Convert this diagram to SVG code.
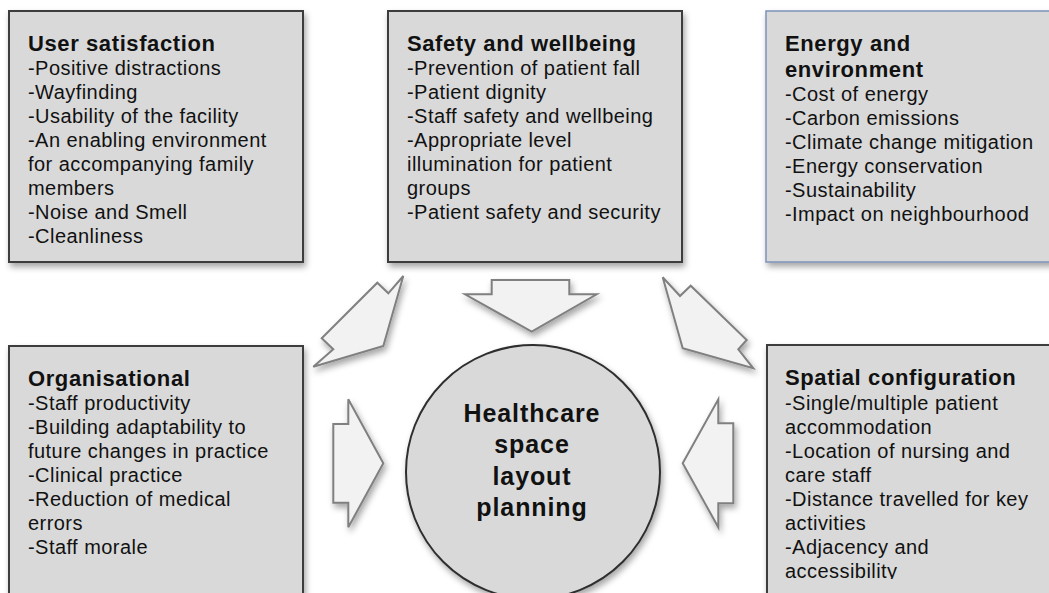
<svg xmlns="http://www.w3.org/2000/svg" width="1049" height="593" viewBox="0 0 1049 593">
<defs>
<filter id="sh" x="-20%" y="-20%" width="140%" height="140%">
<feDropShadow dx="2" dy="4" stdDeviation="3" flood-color="#000" flood-opacity="0.35"/>
</filter>
<clipPath id="clip5"><rect x="760" y="340" width="300" height="239"/></clipPath>
</defs>
<style>
.box{fill:#d9d9d9;stroke:#3c3c3c;stroke-width:2;filter:url(#sh)}
.boxb{fill:#d9d9d9;stroke:#7d92b8;stroke-width:1.5;filter:url(#sh)}
.arr{fill:#f2f2f2;stroke:#808080;stroke-width:2;stroke-linejoin:miter;filter:url(#sh)}
.t{font-family:"Liberation Sans",Arial,sans-serif;font-size:20px;letter-spacing:0.45px;fill:#111}
.h{font-family:"Liberation Sans",Arial,sans-serif;font-size:22px;font-weight:bold;letter-spacing:0.6px;fill:#111}
.c{font-family:"Liberation Sans",Arial,sans-serif;font-size:25px;font-weight:bold;letter-spacing:0.9px;fill:#111;text-anchor:middle}
</style>
<rect width="1049" height="593" fill="#fff"/>

<g id="connectors">
<polygon class="arr" points="313.3,366.7 333.3,349.3 321.7,338.3 377.3,282.7 388.3,293.3 403.3,276 383.3,346"/>
<polygon class="arr" points="491.7,280 569.3,280 569.3,294.3 596.7,294.3 531.7,331.7 465,294.3 491.7,294.3"/>
<polygon class="arr" points="662.7,277.3 680,296 690.7,285.7 746.7,340 738.3,349.3 753.3,368.3 682.7,348.3"/>
<polygon class="arr" points="333.3,424 348.3,424 348.3,399.3 383.3,463.3 348.3,527.3 348.3,502.7 333.3,502.7"/>
<polygon class="arr" points="718.3,399.3 718.3,423.3 733.3,423.3 733.3,503.3 718.3,503.3 718.3,527.3 682.7,463.3"/>
</g>

<g id="user-satisfaction">
<rect class="box" x="9" y="11" width="294" height="251"/>
<text class="h" x="28" y="51">User satisfaction</text>
<text class="t" x="28" y="75">-Positive distractions</text>
<text class="t" x="28" y="99">-Wayfinding</text>
<text class="t" x="28" y="123">-Usability of the facility</text>
<text class="t" x="28" y="147">-An enabling environment</text>
<text class="t" x="28" y="171">for accompanying family</text>
<text class="t" x="28" y="195">members</text>
<text class="t" x="28" y="219">-Noise and Smell</text>
<text class="t" x="28" y="243">-Cleanliness</text>
</g>

<g id="safety-wellbeing">
<rect class="box" x="388" y="11" width="294" height="251"/>
<text class="h" x="407" y="51">Safety and wellbeing</text>
<text class="t" x="407" y="75">-Prevention of patient fall</text>
<text class="t" x="407" y="99">-Patient dignity</text>
<text class="t" x="407" y="123">-Staff safety and wellbeing</text>
<text class="t" x="407" y="147">-Appropriate level</text>
<text class="t" x="407" y="171">illumination for patient</text>
<text class="t" x="407" y="195">groups</text>
<text class="t" x="407" y="219">-Patient safety and security</text>
</g>

<g id="energy-environment">
<rect class="boxb" x="766" y="11" width="300" height="251"/>
<text class="h" x="785" y="51">Energy and</text>
<text class="h" x="785" y="77">environment</text>
<text class="t" x="785" y="101">-Cost of energy</text>
<text class="t" x="785" y="125">-Carbon emissions</text>
<text class="t" x="785" y="149">-Climate change mitigation</text>
<text class="t" x="785" y="173">-Energy conservation</text>
<text class="t" x="785" y="197">-Sustainability</text>
<text class="t" x="785" y="221">-Impact on neighbourhood</text>
</g>

<g id="organisational">
<rect class="box" x="9" y="346" width="294" height="260"/>
<text class="h" x="28" y="386">Organisational</text>
<text class="t" x="28" y="410">-Staff productivity</text>
<text class="t" x="28" y="434">-Building adaptability to</text>
<text class="t" x="28" y="458">future changes in practice</text>
<text class="t" x="28" y="482">-Clinical practice</text>
<text class="t" x="28" y="506">-Reduction of medical</text>
<text class="t" x="28" y="530">errors</text>
<text class="t" x="28" y="554">-Staff morale</text>
</g>

<g id="spatial-configuration">
<rect class="box" x="767" y="345" width="300" height="260"/>
<g clip-path="url(#clip5)">
<text class="h" x="785" y="385">Spatial configuration</text>
<text class="t" x="785" y="410">-Single/multiple patient</text>
<text class="t" x="785" y="434">accommodation</text>
<text class="t" x="785" y="458">-Location of nursing and</text>
<text class="t" x="785" y="482">care staff</text>
<text class="t" x="785" y="506">-Distance travelled for key</text>
<text class="t" x="785" y="530">activities</text>
<text class="t" x="785" y="554">-Adjacency and</text>
<text class="t" x="785" y="578">accessibility</text>
</g>
</g>

<g id="healthcare-planning">
<circle cx="533" cy="472" r="127" fill="#d9d9d9" stroke="#2e2e2e" stroke-width="2" filter="url(#sh)"/>
<text class="c" x="532" y="422">Healthcare</text>
<text class="c" x="532" y="453">space</text>
<text class="c" x="532" y="485">layout</text>
<text class="c" x="532" y="516">planning</text>
</g>
</svg>
